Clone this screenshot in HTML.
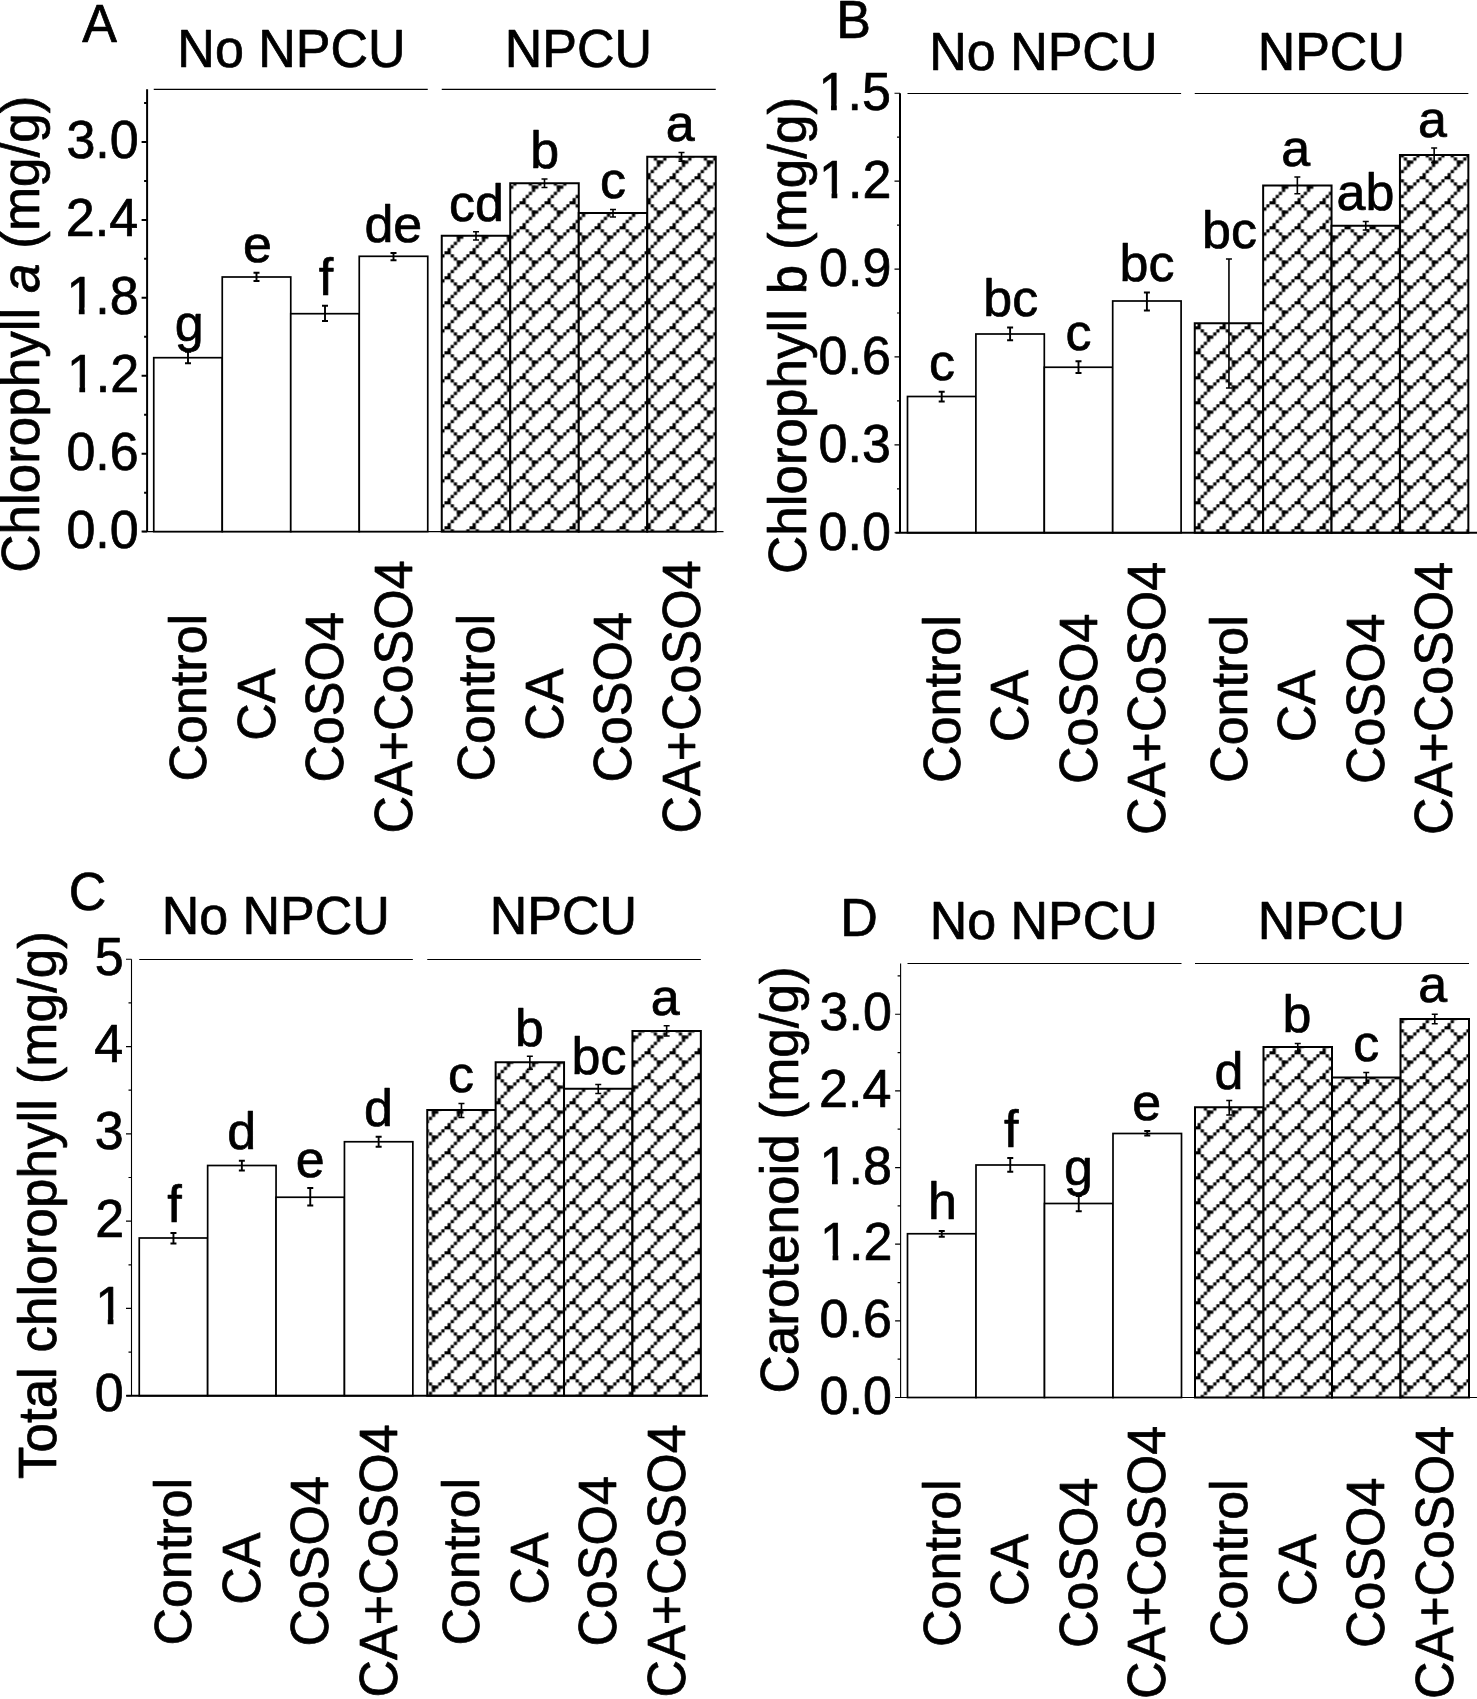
<!DOCTYPE html>
<html><head><meta charset="utf-8"><title>Figure</title>
<style>
html,body{margin:0;padding:0;background:#fff;}
svg{display:block;}
text{font-family:"Liberation Sans", sans-serif;fill:#000;stroke:#000;stroke-width:0.7px;stroke-linejoin:round;}
</style></head><body>
<svg width="1477" height="1699" viewBox="0 0 1477 1699">
<defs><pattern id="hb" patternUnits="userSpaceOnUse" x="19.5" y="1.25" width="25" height="25"><rect width="25" height="25" fill="#fff"/><g fill="#000"><rect x="-0.0600" y="-0.0600" width="6.3700" height="3.2450"/><rect x="6.1900" y="3.0650" width="3.2450" height="3.2450"/><rect x="21.8150" y="3.0650" width="3.2450" height="3.2450"/><rect x="9.3150" y="6.1900" width="3.2450" height="3.2450"/><rect x="18.6900" y="6.1900" width="3.2450" height="3.2450"/><rect x="12.4400" y="9.3150" width="6.3700" height="3.2450"/><rect x="12.4400" y="9.3150" width="3.2450" height="6.3700"/><rect x="9.3150" y="15.5650" width="3.2450" height="3.2450"/><rect x="6.1900" y="18.6900" width="3.2450" height="3.2450"/><rect x="3.0650" y="21.8150" width="3.2450" height="3.2450"/></g></pattern></defs>
<rect width="1477" height="1699" fill="#fff"/>
<rect x="153.75" y="357.70" width="68.50" height="173.90" fill="#fff" stroke="#000" stroke-width="1.7"/>
<rect x="222.25" y="277.00" width="68.50" height="254.60" fill="#fff" stroke="#000" stroke-width="1.7"/>
<rect x="290.75" y="313.70" width="68.50" height="217.90" fill="#fff" stroke="#000" stroke-width="1.7"/>
<rect x="359.25" y="256.30" width="68.50" height="275.30" fill="#fff" stroke="#000" stroke-width="1.7"/>
<rect x="441.75" y="235.75" width="68.50" height="295.85" fill="url(#hb)" stroke="#000" stroke-width="2.0"/>
<rect x="510.25" y="183.25" width="68.50" height="348.35" fill="url(#hb)" stroke="#000" stroke-width="2.0"/>
<rect x="578.75" y="213.00" width="68.50" height="318.60" fill="url(#hb)" stroke="#000" stroke-width="2.0"/>
<rect x="647.25" y="156.75" width="68.50" height="374.85" fill="url(#hb)" stroke="#000" stroke-width="2.0"/>
<path d="M188.00 351.70V363.30M185.00 351.70h6M185.00 363.30h6" stroke="#000" stroke-width="1.9" fill="none"/>
<path d="M256.50 272.70V281.00M253.50 272.70h6M253.50 281.00h6" stroke="#000" stroke-width="1.9" fill="none"/>
<path d="M325.00 305.70V321.00M322.00 305.70h6M322.00 321.00h6" stroke="#000" stroke-width="1.9" fill="none"/>
<path d="M393.50 253.00V260.30M390.50 253.00h6M390.50 260.30h6" stroke="#000" stroke-width="1.9" fill="none"/>
<path d="M476.00 231.75V240.00M473.00 231.75h6M473.00 240.00h6" stroke="#000" stroke-width="1.6" fill="none"/>
<path d="M544.50 179.00V187.50M541.50 179.00h6M541.50 187.50h6" stroke="#000" stroke-width="1.6" fill="none"/>
<path d="M613.00 209.50V217.00M610.00 209.50h6M610.00 217.00h6" stroke="#000" stroke-width="1.6" fill="none"/>
<path d="M681.50 152.50V161.25M678.50 152.50h6M678.50 161.25h6" stroke="#000" stroke-width="1.6" fill="none"/>
<path d="M147.10 89.30V531.60" stroke="#000" stroke-width="2.0" fill="none"/>
<path d="M142.50 531.60H723.50" stroke="#000" stroke-width="1.2" fill="none"/>
<path d="M141.60 531.60H147.10M141.60 453.68H147.10M141.60 375.76H147.10M141.60 297.83H147.10M141.60 219.91H147.10M141.60 141.99H147.10M144.10 492.64H147.10M144.10 414.72H147.10M144.10 336.80H147.10M144.10 258.87H147.10M144.10 180.95H147.10M144.10 103.03H147.10" stroke="#000" stroke-width="2.0" fill="none"/>
<path d="M153.75 89.40H427.75M441.75 89.40H715.75" stroke="#000" stroke-width="1.2" fill="none"/>
<text transform="translate(66.39,547.62) scale(1,1.03)" font-size="52.0">0.0</text>
<text transform="translate(66.39,469.69) scale(1,1.03)" font-size="52.0">0.6</text>
<text transform="translate(66.91,391.77) scale(1,1.03)" font-size="52.0">1.2</text>
<path d="M69.21 385.47h10.15v7.6h-10.15zM85.11 385.47h9.6v7.6h-9.6z" fill="#fff"/>
<text transform="translate(66.39,313.85) scale(1,1.03)" font-size="52.0">1.8</text>
<path d="M68.69 307.55h10.15v7.6h-10.15zM84.59 307.55h9.6v7.6h-9.6z" fill="#fff"/>
<text transform="translate(65.87,235.93) scale(1,1.03)" font-size="52.0">2.4</text>
<text transform="translate(66.39,158.01) scale(1,1.03)" font-size="52.0">3.0</text>
<text transform="translate(174.66,340.80)" font-size="52.0">g</text>
<text transform="translate(242.94,262.40)" font-size="52.0">e</text>
<text transform="translate(318.76,295.00)" font-size="52.0">f</text>
<text transform="translate(364.38,242.30)" font-size="52.0">de</text>
<text transform="translate(448.96,221.00)" font-size="52.0">cd</text>
<text transform="translate(530.32,168.00)" font-size="52.0">b</text>
<text transform="translate(599.98,198.00)" font-size="52.0">c</text>
<text transform="translate(665.65,141.25)" font-size="52.0">a</text>
<text transform="translate(82.28,41.70) scale(1,1.03)" font-size="52.0">A</text>
<text transform="translate(177.37,66.80) scale(1,1.03)" font-size="52.0">No NPCU</text>
<text transform="translate(504.83,67.00) scale(1,1.03)" font-size="52.0">NPCU</text>
<text transform="translate(39.30,572.81) rotate(-90)" font-size="53.0">Chlorophyll <tspan font-style="italic">a</tspan> (mg/g)</text>
<text transform="translate(206.00,781.50) rotate(-90)" font-size="52.0">Control</text>
<text transform="translate(274.50,740.80) rotate(-90) scale(1,1.03)" font-size="52.0">CA</text>
<text transform="translate(343.00,782.58) rotate(-90) scale(1,1.03)" font-size="52.0">CoSO4</text>
<text transform="translate(411.50,833.48) rotate(-90) scale(1,1.03)" font-size="52.0">CA+CoSO4</text>
<text transform="translate(494.00,781.50) rotate(-90)" font-size="52.0">Control</text>
<text transform="translate(562.50,740.80) rotate(-90) scale(1,1.03)" font-size="52.0">CA</text>
<text transform="translate(631.00,782.58) rotate(-90) scale(1,1.03)" font-size="52.0">CoSO4</text>
<text transform="translate(699.50,833.48) rotate(-90) scale(1,1.03)" font-size="52.0">CA+CoSO4</text>
<rect x="907.50" y="396.50" width="68.40" height="136.25" fill="#fff" stroke="#000" stroke-width="1.7"/>
<rect x="975.90" y="334.00" width="68.40" height="198.75" fill="#fff" stroke="#000" stroke-width="1.7"/>
<rect x="1044.30" y="367.25" width="68.40" height="165.50" fill="#fff" stroke="#000" stroke-width="1.7"/>
<rect x="1112.70" y="301.00" width="68.40" height="231.75" fill="#fff" stroke="#000" stroke-width="1.7"/>
<rect x="1194.75" y="323.25" width="68.40" height="209.50" fill="url(#hb)" stroke="#000" stroke-width="2.0"/>
<rect x="1263.15" y="185.50" width="68.40" height="347.25" fill="url(#hb)" stroke="#000" stroke-width="2.0"/>
<rect x="1331.55" y="225.75" width="68.40" height="307.00" fill="url(#hb)" stroke="#000" stroke-width="2.0"/>
<rect x="1399.95" y="155.00" width="68.40" height="377.75" fill="url(#hb)" stroke="#000" stroke-width="2.0"/>
<path d="M941.70 391.75V401.50M938.70 391.75h6M938.70 401.50h6" stroke="#000" stroke-width="1.9" fill="none"/>
<path d="M1010.10 327.50V340.25M1007.10 327.50h6M1007.10 340.25h6" stroke="#000" stroke-width="1.9" fill="none"/>
<path d="M1078.50 361.25V373.00M1075.50 361.25h6M1075.50 373.00h6" stroke="#000" stroke-width="1.9" fill="none"/>
<path d="M1146.90 292.50V310.50M1143.90 292.50h6M1143.90 310.50h6" stroke="#000" stroke-width="1.9" fill="none"/>
<path d="M1228.95 259.00V388.00M1225.95 259.00h6M1225.95 388.00h6" stroke="#000" stroke-width="1.6" fill="none"/>
<path d="M1297.35 177.00V193.75M1294.35 177.00h6M1294.35 193.75h6" stroke="#000" stroke-width="1.6" fill="none"/>
<path d="M1365.75 221.50V230.00M1362.75 221.50h6M1362.75 230.00h6" stroke="#000" stroke-width="1.6" fill="none"/>
<path d="M1434.15 148.00V162.50M1431.15 148.00h6M1431.15 162.50h6" stroke="#000" stroke-width="1.6" fill="none"/>
<path d="M900.00 93.25V532.75" stroke="#000" stroke-width="2.0" fill="none"/>
<path d="M895.50 532.75H1477.00" stroke="#000" stroke-width="2.0" fill="none"/>
<path d="M894.50 532.75H900.00M894.50 444.85H900.00M894.50 356.95H900.00M894.50 269.05H900.00M894.50 181.15H900.00M894.50 93.25H900.00M897.00 488.80H900.00M897.00 400.90H900.00M897.00 313.00H900.00M897.00 225.10H900.00M897.00 137.20H900.00" stroke="#000" stroke-width="1.2" fill="none"/>
<path d="M907.50 93.50H1181.10M1194.75 93.50H1468.35" stroke="#000" stroke-width="1.2" fill="none"/>
<text transform="translate(818.59,549.57) scale(1,1.03)" font-size="52.0">0.0</text>
<text transform="translate(818.59,461.67) scale(1,1.03)" font-size="52.0">0.3</text>
<text transform="translate(818.59,373.77) scale(1,1.03)" font-size="52.0">0.6</text>
<text transform="translate(819.11,285.87) scale(1,1.03)" font-size="52.0">0.9</text>
<text transform="translate(819.11,197.97) scale(1,1.03)" font-size="52.0">1.2</text>
<path d="M821.41 191.67h10.15v7.6h-10.15zM837.31 191.67h9.6v7.6h-9.6z" fill="#fff"/>
<text transform="translate(818.59,110.07) scale(1,1.03)" font-size="52.0">1.5</text>
<path d="M820.89 103.77h10.15v7.6h-10.15zM836.79 103.77h9.6v7.6h-9.6z" fill="#fff"/>
<text transform="translate(928.88,380.00)" font-size="52.0">c</text>
<text transform="translate(983.25,316.25)" font-size="52.0">bc</text>
<text transform="translate(1065.48,349.50)" font-size="52.0">c</text>
<text transform="translate(1119.50,281.25)" font-size="52.0">bc</text>
<text transform="translate(1202.00,247.50)" font-size="52.0">bc</text>
<text transform="translate(1281.15,166.20)" font-size="52.0">a</text>
<text transform="translate(1336.48,209.95)" font-size="52.0">ab</text>
<text transform="translate(1417.90,137.00)" font-size="52.0">a</text>
<text transform="translate(836.20,37.50) scale(1,1.03)" font-size="52.0">B</text>
<text transform="translate(929.27,69.50) scale(1,1.03)" font-size="52.0">No NPCU</text>
<text transform="translate(1257.63,69.50) scale(1,1.03)" font-size="52.0">NPCU</text>
<text transform="translate(805.50,574.11) rotate(-90)" font-size="53.0">Chlorophyll b (mg/g)</text>
<text transform="translate(959.70,782.90) rotate(-90)" font-size="52.0">Control</text>
<text transform="translate(1028.10,742.20) rotate(-90) scale(1,1.03)" font-size="52.0">CA</text>
<text transform="translate(1096.50,783.98) rotate(-90) scale(1,1.03)" font-size="52.0">CoSO4</text>
<text transform="translate(1164.90,834.88) rotate(-90) scale(1,1.03)" font-size="52.0">CA+CoSO4</text>
<text transform="translate(1246.95,782.90) rotate(-90)" font-size="52.0">Control</text>
<text transform="translate(1315.35,742.20) rotate(-90) scale(1,1.03)" font-size="52.0">CA</text>
<text transform="translate(1383.75,783.98) rotate(-90) scale(1,1.03)" font-size="52.0">CoSO4</text>
<text transform="translate(1452.15,834.88) rotate(-90) scale(1,1.03)" font-size="52.0">CA+CoSO4</text>
<rect x="139.25" y="1238.00" width="68.40" height="157.75" fill="#fff" stroke="#000" stroke-width="1.7"/>
<rect x="207.65" y="1165.50" width="68.40" height="230.25" fill="#fff" stroke="#000" stroke-width="1.7"/>
<rect x="276.05" y="1197.25" width="68.40" height="198.50" fill="#fff" stroke="#000" stroke-width="1.7"/>
<rect x="344.45" y="1141.75" width="68.40" height="254.00" fill="#fff" stroke="#000" stroke-width="1.7"/>
<rect x="427.25" y="1110.00" width="68.40" height="285.75" fill="url(#hb)" stroke="#000" stroke-width="2.0"/>
<rect x="495.65" y="1062.25" width="68.40" height="333.50" fill="url(#hb)" stroke="#000" stroke-width="2.0"/>
<rect x="564.05" y="1088.75" width="68.40" height="307.00" fill="url(#hb)" stroke="#000" stroke-width="2.0"/>
<rect x="632.45" y="1031.00" width="68.40" height="364.75" fill="url(#hb)" stroke="#000" stroke-width="2.0"/>
<path d="M173.45 1233.00V1243.50M170.45 1233.00h6M170.45 1243.50h6" stroke="#000" stroke-width="1.9" fill="none"/>
<path d="M241.85 1160.75V1170.50M238.85 1160.75h6M238.85 1170.50h6" stroke="#000" stroke-width="1.9" fill="none"/>
<path d="M310.25 1188.00V1205.50M307.25 1188.00h6M307.25 1205.50h6" stroke="#000" stroke-width="1.9" fill="none"/>
<path d="M378.65 1136.75V1146.75M375.65 1136.75h6M375.65 1146.75h6" stroke="#000" stroke-width="1.9" fill="none"/>
<path d="M461.45 1103.50V1117.50M458.45 1103.50h6M458.45 1117.50h6" stroke="#000" stroke-width="1.6" fill="none"/>
<path d="M529.85 1056.25V1069.25M526.85 1056.25h6M526.85 1069.25h6" stroke="#000" stroke-width="1.6" fill="none"/>
<path d="M598.25 1084.50V1093.50M595.25 1084.50h6M595.25 1093.50h6" stroke="#000" stroke-width="1.6" fill="none"/>
<path d="M666.65 1025.75V1036.00M663.65 1025.75h6M663.65 1036.00h6" stroke="#000" stroke-width="1.6" fill="none"/>
<path d="M131.50 959.25V1395.75" stroke="#000" stroke-width="1.1" fill="none"/>
<path d="M126.25 1395.75H708.00" stroke="#000" stroke-width="2.0" fill="none"/>
<path d="M126.00 1395.75H131.50M126.00 1308.45H131.50M126.00 1221.15H131.50M126.00 1133.85H131.50M126.00 1046.55H131.50M126.00 959.25H131.50M128.50 1352.10H131.50M128.50 1264.80H131.50M128.50 1177.50H131.50M128.50 1090.20H131.50M128.50 1002.90H131.50" stroke="#000" stroke-width="1.2" fill="none"/>
<path d="M139.25 959.50H412.85M427.25 959.50H700.85" stroke="#000" stroke-width="1.2" fill="none"/>
<text transform="translate(94.76,1411.37) scale(1,1.03)" font-size="52.0">0</text>
<text transform="translate(95.28,1324.07) scale(1,1.03)" font-size="52.0">1</text>
<path d="M97.58 1317.77h10.15v7.6h-10.15zM113.48 1317.77h9.6v7.6h-9.6z" fill="#fff"/>
<text transform="translate(95.28,1236.77) scale(1,1.03)" font-size="52.0">2</text>
<text transform="translate(94.76,1149.47) scale(1,1.03)" font-size="52.0">3</text>
<text transform="translate(94.24,1062.17) scale(1,1.03)" font-size="52.0">4</text>
<text transform="translate(94.76,974.87) scale(1,1.03)" font-size="52.0">5</text>
<text transform="translate(167.21,1221.75)" font-size="52.0">f</text>
<text transform="translate(227.21,1148.70)" font-size="52.0">d</text>
<text transform="translate(295.69,1176.75)" font-size="52.0">e</text>
<text transform="translate(363.96,1125.50)" font-size="52.0">d</text>
<text transform="translate(448.08,1091.75)" font-size="52.0">c</text>
<text transform="translate(514.92,1045.65)" font-size="52.0">b</text>
<text transform="translate(571.50,1073.50)" font-size="52.0">bc</text>
<text transform="translate(650.65,1015.25)" font-size="52.0">a</text>
<text transform="translate(68.86,910.00) scale(1,1.03)" font-size="52.0">C</text>
<text transform="translate(161.67,934.25) scale(1,1.03)" font-size="52.0">No NPCU</text>
<text transform="translate(489.73,934.25) scale(1,1.03)" font-size="52.0">NPCU</text>
<text transform="translate(55.50,1479.07) rotate(-90)" font-size="53.0">Total chlorophyll (mg/g)</text>
<text transform="translate(191.45,1645.50) rotate(-90)" font-size="52.0">Control</text>
<text transform="translate(259.85,1604.80) rotate(-90) scale(1,1.03)" font-size="52.0">CA</text>
<text transform="translate(328.25,1646.58) rotate(-90) scale(1,1.03)" font-size="52.0">CoSO4</text>
<text transform="translate(396.65,1697.48) rotate(-90) scale(1,1.03)" font-size="52.0">CA+CoSO4</text>
<text transform="translate(479.45,1645.50) rotate(-90)" font-size="52.0">Control</text>
<text transform="translate(547.85,1604.80) rotate(-90) scale(1,1.03)" font-size="52.0">CA</text>
<text transform="translate(616.25,1646.58) rotate(-90) scale(1,1.03)" font-size="52.0">CoSO4</text>
<text transform="translate(684.65,1697.48) rotate(-90) scale(1,1.03)" font-size="52.0">CA+CoSO4</text>
<rect x="907.50" y="1233.75" width="68.50" height="163.75" fill="#fff" stroke="#000" stroke-width="1.7"/>
<rect x="976.00" y="1165.00" width="68.50" height="232.50" fill="#fff" stroke="#000" stroke-width="1.7"/>
<rect x="1044.50" y="1203.50" width="68.50" height="194.00" fill="#fff" stroke="#000" stroke-width="1.7"/>
<rect x="1113.00" y="1133.50" width="68.50" height="264.00" fill="#fff" stroke="#000" stroke-width="1.7"/>
<rect x="1195.00" y="1107.25" width="68.50" height="290.25" fill="url(#hb)" stroke="#000" stroke-width="2.0"/>
<rect x="1263.50" y="1047.00" width="68.50" height="350.50" fill="url(#hb)" stroke="#000" stroke-width="2.0"/>
<rect x="1332.00" y="1077.50" width="68.50" height="320.00" fill="url(#hb)" stroke="#000" stroke-width="2.0"/>
<rect x="1400.50" y="1019.00" width="68.50" height="378.50" fill="url(#hb)" stroke="#000" stroke-width="2.0"/>
<path d="M941.75 1231.00V1236.75M938.75 1231.00h6M938.75 1236.75h6" stroke="#000" stroke-width="1.9" fill="none"/>
<path d="M1010.25 1158.00V1171.75M1007.25 1158.00h6M1007.25 1171.75h6" stroke="#000" stroke-width="1.9" fill="none"/>
<path d="M1078.75 1196.00V1211.25M1075.75 1196.00h6M1075.75 1211.25h6" stroke="#000" stroke-width="1.9" fill="none"/>
<path d="M1147.25 1131.00V1135.50M1144.25 1131.00h6M1144.25 1135.50h6" stroke="#000" stroke-width="1.9" fill="none"/>
<path d="M1229.25 1100.50V1115.00M1226.25 1100.50h6M1226.25 1115.00h6" stroke="#000" stroke-width="1.6" fill="none"/>
<path d="M1297.75 1043.50V1051.00M1294.75 1043.50h6M1294.75 1051.00h6" stroke="#000" stroke-width="1.6" fill="none"/>
<path d="M1366.25 1072.50V1083.00M1363.25 1072.50h6M1363.25 1083.00h6" stroke="#000" stroke-width="1.6" fill="none"/>
<path d="M1434.75 1014.25V1023.75M1431.75 1014.25h6M1431.75 1023.75h6" stroke="#000" stroke-width="1.6" fill="none"/>
<path d="M900.60 963.50V1397.50" stroke="#000" stroke-width="1.1" fill="none"/>
<path d="M895.50 1397.50H1477.00" stroke="#000" stroke-width="1.2" fill="none"/>
<path d="M895.10 1397.50H900.60M895.10 1320.85H900.60M895.10 1244.20H900.60M895.10 1167.55H900.60M895.10 1090.90H900.60M895.10 1014.25H900.60M897.60 1359.17H900.60M897.60 1282.53H900.60M897.60 1205.88H900.60M897.60 1129.22H900.60M897.60 1052.58H900.60M897.60 975.92H900.60" stroke="#000" stroke-width="1.2" fill="none"/>
<path d="M907.50 963.50H1181.50M1195.00 963.50H1469.00" stroke="#000" stroke-width="1.2" fill="none"/>
<text transform="translate(819.59,1413.62) scale(1,1.03)" font-size="52.0">0.0</text>
<text transform="translate(819.59,1336.97) scale(1,1.03)" font-size="52.0">0.6</text>
<text transform="translate(820.11,1260.32) scale(1,1.03)" font-size="52.0">1.2</text>
<path d="M822.41 1254.02h10.15v7.6h-10.15zM838.31 1254.02h9.6v7.6h-9.6z" fill="#fff"/>
<text transform="translate(819.59,1183.67) scale(1,1.03)" font-size="52.0">1.8</text>
<path d="M821.89 1177.37h10.15v7.6h-10.15zM837.79 1177.37h9.6v7.6h-9.6z" fill="#fff"/>
<text transform="translate(819.07,1107.02) scale(1,1.03)" font-size="52.0">2.4</text>
<text transform="translate(819.59,1030.37) scale(1,1.03)" font-size="52.0">3.0</text>
<text transform="translate(927.94,1219.20)" font-size="52.0">h</text>
<text transform="translate(1004.06,1146.50)" font-size="52.0">f</text>
<text transform="translate(1064.06,1185.25)" font-size="52.0">g</text>
<text transform="translate(1132.19,1120.25)" font-size="52.0">e</text>
<text transform="translate(1214.56,1089.25)" font-size="52.0">d</text>
<text transform="translate(1282.52,1031.75)" font-size="52.0">b</text>
<text transform="translate(1353.23,1060.50)" font-size="52.0">c</text>
<text transform="translate(1418.30,1002.45)" font-size="52.0">a</text>
<text transform="translate(840.24,936.00) scale(1,1.03)" font-size="52.0">D</text>
<text transform="translate(929.67,938.50) scale(1,1.03)" font-size="52.0">No NPCU</text>
<text transform="translate(1257.63,938.50) scale(1,1.03)" font-size="52.0">NPCU</text>
<text transform="translate(798.00,1393.49) rotate(-90)" font-size="53.0">Carotenoid (mg/g)</text>
<text transform="translate(959.75,1647.00) rotate(-90)" font-size="52.0">Control</text>
<text transform="translate(1028.25,1606.30) rotate(-90) scale(1,1.03)" font-size="52.0">CA</text>
<text transform="translate(1096.75,1648.08) rotate(-90) scale(1,1.03)" font-size="52.0">CoSO4</text>
<text transform="translate(1165.25,1698.98) rotate(-90) scale(1,1.03)" font-size="52.0">CA+CoSO4</text>
<text transform="translate(1247.25,1647.00) rotate(-90)" font-size="52.0">Control</text>
<text transform="translate(1315.75,1606.30) rotate(-90) scale(1,1.03)" font-size="52.0">CA</text>
<text transform="translate(1384.25,1648.08) rotate(-90) scale(1,1.03)" font-size="52.0">CoSO4</text>
<text transform="translate(1452.75,1698.98) rotate(-90) scale(1,1.03)" font-size="52.0">CA+CoSO4</text>
</svg>
</body></html>
